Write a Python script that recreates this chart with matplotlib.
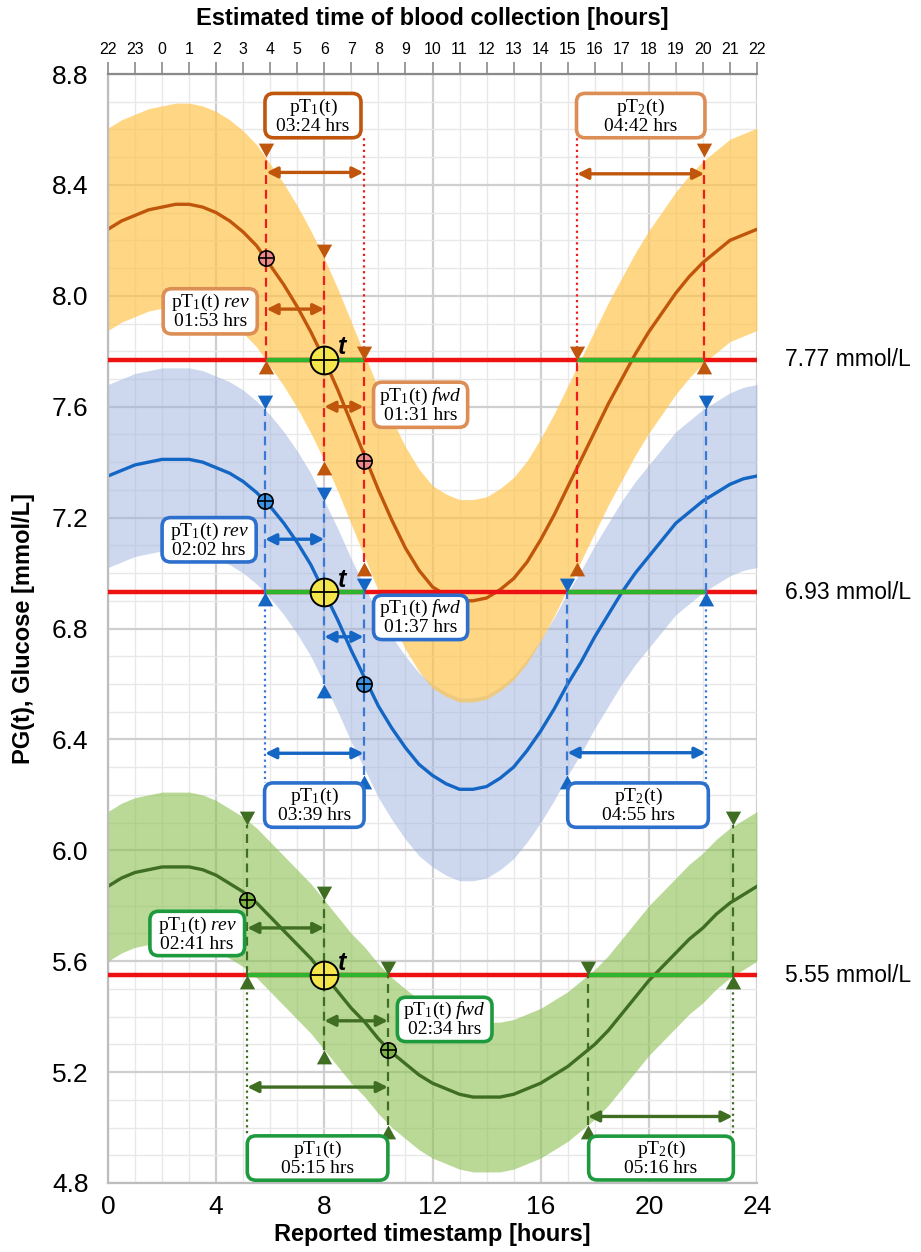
import matplotlib
matplotlib.use("Agg")
import matplotlib.pyplot as plt
import numpy as np
from matplotlib.path import Path
from matplotlib.patches import FancyBboxPatch
from matplotlib.ticker import MultipleLocator

plt.rcParams['font.family'] = ['Liberation Sans', 'DejaVu Sans']
plt.rcParams['mathtext.fontset'] = 'custom'
plt.rcParams['mathtext.rm'] = 'Liberation Serif'
plt.rcParams['mathtext.it'] = 'Liberation Serif:italic'

# ---------------- data (read every half hour) ----------------
hours = [h / 2 for h in range(49)]
orange_pg = [8.24, 8.27, 8.29, 8.31, 8.32, 8.33, 8.33, 8.32, 8.30, 8.27, 8.23, 8.18, 8.11,
             8.04, 7.96, 7.87, 7.77, 7.66, 7.54, 7.42, 7.30, 7.19, 7.09, 7.01, 6.95, 6.92,
             6.90, 6.90, 6.91, 6.94, 6.98, 7.04, 7.12, 7.21, 7.31, 7.41, 7.51, 7.61, 7.70,
             7.79, 7.87, 7.94, 8.01, 8.07, 8.12, 8.16, 8.20, 8.22, 8.24]
blue_pg = [7.35, 7.37, 7.39, 7.40, 7.41, 7.41, 7.41, 7.40, 7.38, 7.36, 7.33, 7.29, 7.24,
           7.18, 7.11, 7.03, 6.93, 6.83, 6.72, 6.62, 6.52, 6.44, 6.37, 6.31, 6.27, 6.24,
           6.22, 6.22, 6.23, 6.26, 6.30, 6.36, 6.43, 6.51, 6.60, 6.68, 6.77, 6.85, 6.93,
           7.00, 7.06, 7.12, 7.18, 7.22, 7.26, 7.29, 7.32, 7.34, 7.35]
green_pg = [5.87, 5.90, 5.92, 5.93, 5.94, 5.94, 5.94, 5.93, 5.91, 5.88, 5.85, 5.81, 5.76,
            5.71, 5.66, 5.61, 5.55, 5.49, 5.43, 5.38, 5.32, 5.27, 5.23, 5.19, 5.16, 5.14,
            5.12, 5.11, 5.11, 5.11, 5.12, 5.14, 5.16, 5.19, 5.22, 5.26, 5.30, 5.35, 5.41,
            5.47, 5.53, 5.58, 5.63, 5.68, 5.72, 5.77, 5.81, 5.84, 5.87]
band_half = [0.365, 0.33, 0.27]            # orange, blue, green
levels = [7.77, 6.93, 5.55]
level_labels = ["7.77 mmol/L", "6.93 mmol/L", "5.55 mmol/L"]
t_hour = 8.0
# reverse point, forward point, pT2 start, pT2 end (hours)
orange_times = [5.86, 9.45, 17.35, 22.05]
blue_times = [5.81, 9.45, 16.99, 22.1]
green_times = [5.15, 10.35, 17.75, 23.1]
orange_durations = ["03:24", "04:42", "01:53", "01:31"]   # pT1, pT2, rev, fwd
blue_durations = ["03:39", "04:55", "02:02", "01:37"]
green_durations = ["05:15", "05:16", "02:41", "02:34"]
top_hours = list(range(25))
top_ticks = [(h - 2) % 24 for h in top_hours]
x_ticks = [0, 4, 8, 12, 16, 20, 24]
y_ticks = [4.8, 5.2, 5.6, 6.0, 6.4, 6.8, 7.2, 7.6, 8.0, 8.4, 8.8]

# ---------------- style ----------------
W, H = 921, 1252
fig = plt.figure(figsize=(W / 100, H / 100), dpi=100)
ax_l, ax_r, ax_t, ax_b = 108, 757, 74, 1183
ax = fig.add_axes([ax_l / W, 1 - ax_b / H, (ax_r - ax_l) / W, (ax_b - ax_t) / H])
ax.set_xlim(0, 24)
ax.set_ylim(4.8, 8.8)
xpp = 24 / (ax_r - ax_l)
ypp = 4.0 / (ax_b - ax_t)
aspect = ypp / xpp

ax.set_axisbelow(True)
ax.xaxis.set_major_locator(MultipleLocator(4))
ax.xaxis.set_minor_locator(MultipleLocator(1))
ax.yaxis.set_major_locator(MultipleLocator(0.4))
ax.yaxis.set_minor_locator(MultipleLocator(0.1))
ax.grid(which='major', color='#CFCFCF', lw=1.6)
ax.grid(which='minor', color='#E8E8E8', lw=1.0)
ax.set_xticks(x_ticks)
ax.set_xticklabels([str(v) for v in x_ticks])
ax.set_yticks(y_ticks)
ax.set_yticklabels([f"{v:.1f}" for v in y_ticks])
ax.tick_params(which='both', length=0)
ax.tick_params(axis='x', labelsize=19, pad=9)
ax.tick_params(axis='y', labelsize=19, pad=14)
for s in ['right', 'top']:
    ax.spines[s].set_visible(False)
for s in ['left', 'bottom']:
    ax.spines[s].set_color('#BDBDBD')
    ax.spines[s].set_linewidth(1.6)

ax2 = ax.twiny()
ax2.set_xlim(0, 24)
ax2.set_xticks(top_hours)
ax2.set_xticklabels([str(v) for v in top_ticks])
ax2.tick_params(axis='x', direction='out', length=9, width=1.2, color='#8A8A8A',
                labelsize=11.5, pad=3)
ax2.spines['top'].set_color('#8A8A8A')
ax2.spines['top'].set_linewidth(1.6)
for s in ['left', 'right', 'bottom']:
    ax2.spines[s].set_visible(False)

fig.text((ax_l + ax_r) / 2 / W, 1 - 18 / H, "Estimated time of blood collection [hours]",
         ha='center', va='center', fontsize=17, fontweight='bold')
fig.text((ax_l + ax_r) / 2 / W, 1 - 1234 / H, "Reported timestamp [hours]",
         ha='center', va='center', fontsize=17, fontweight='bold')
fig.text(24 / W, 1 - (ax_t + ax_b) / 2 / H, "PG(t), Glucose [mmol/L]", rotation=90,
         ha='center', va='center', fontsize=17, fontweight='bold')

down_tri = Path([(-0.55, 1.0), (0.55, 1.0), (0.0, 0.0), (-0.55, 1.0)],
                [Path.MOVETO, Path.LINETO, Path.LINETO, Path.CLOSEPOLY])
up_tri = Path([(-0.55, -1.0), (0.55, -1.0), (0.0, 0.0), (-0.55, -1.0)],
              [Path.MOVETO, Path.LINETO, Path.LINETO, Path.CLOSEPOLY])

series = [
    dict(pg=orange_pg, color='#C0560C', band='#FFC44A', band_alpha=0.68, vcol='#EE1C1C',
         mfill='#F08A8A', box_main='#C0560C', box_other='#DC8E55', times=orange_times,
         dur=orange_durations,
         arrows=[8.445, 8.44, 7.952, 7.60],
         boxes=[(7.58, 8.65, 3.55, 0.16), (19.70, 8.65, 4.75, 0.16),
                (3.78, 7.944, 3.48, 0.163), (11.56, 7.607, 3.48, 0.163)],
         dotted='up', dot_end=8.572),
    dict(pg=blue_pg, color='#1466C4', band='#9DB2E0', band_alpha=0.5, vcol='#3A78D6',
         mfill='#3A93E6', box_main='#2D6FCC', box_other='#2D6FCC', times=blue_times,
         dur=blue_durations,
         arrows=[6.35, 6.352, 7.122, 6.77],
         boxes=[(7.63, 6.163, 3.68, 0.16), (19.6, 6.163, 5.2, 0.16),
                (3.74, 7.12, 3.48, 0.16), (11.56, 6.84, 3.48, 0.16)],
         dotted='down', dot_end=6.243),
    dict(pg=green_pg, color='#3F6E22', band='#8CC152', band_alpha=0.6, vcol='#3F6E22',
         mfill='#7DB442', box_main='#1E9A3E', box_other='#1E9A3E', times=green_times,
         dur=green_durations,
         arrows=[5.146, 5.04, 5.72, 5.385],
         boxes=[(7.75, 4.89, 5.2, 0.16), (20.45, 4.89, 5.35, 0.158),
                (3.3, 5.70, 3.5, 0.16), (12.45, 5.39, 3.5, 0.16)],
         dotted='down', dot_end=4.97),
]
draw_order = [1, 0, 2]

for i in draw_order:
    s = series[i]
    b = band_half[i]
    pg = np.array(s['pg'])
    ax.fill_between(hours, pg - b, pg + b, color=s['band'], alpha=s['band_alpha'], lw=0, zorder=1)

for i, s in enumerate(series):
    b = band_half[i]
    L = levels[i]
    r, w, a, e = s['times']
    c = s['color']
    ax.plot(hours, s['pg'], color=c, lw=2.4, zorder=2, solid_capstyle='round',
            solid_joinstyle='round')
    # threshold line
    ax.plot([0, 24], [L, L], color='#EE1111', lw=3.2, zorder=3, solid_capstyle='butt')
    ax.plot([r, w], [L, L], color='#2DB52D', lw=3.2, zorder=3.1, solid_capstyle='butt')
    ax.plot([a, e], [L, L], color='#2DB52D', lw=3.2, zorder=3.1, solid_capstyle='butt')
    ax.text(25.05, L, level_labels[i], fontsize=16.5, va='center', ha='left', clip_on=False)
    # vertical dashed segments
    segs = [(r, L, L + 2 * b), (t_hour, L - b, L + b), (w, L - 2 * b, L),
            (a, L - 2 * b, L), (e, L, L + 2 * b)]
    for x, y0, y1 in segs:
        ax.plot([x, x], [y0, y1], color=s['vcol'], lw=1.6, ls=(0, (4, 2.6)), zorder=4)
        ax.plot([x], [y1], marker=down_tri, ms=20, color=c, mec='none', zorder=5)
        ax.plot([x], [y0], marker=up_tri, ms=20, color=c, mec='none', zorder=5)
    # dotted connectors to duration boxes
    dx = (w, a) if s['dotted'] == 'up' else (r, e)
    for x in dx:
        ax.plot([x, x], [L, s['dot_end']], color=s['vcol'], lw=1.6, ls=(0, (1, 1.6)), zorder=4)
    # double arrows
    spans = [(r, w), (a, e), (r, t_hour), (t_hour, w)]
    for (x0, x1), yy in zip(spans, s['arrows']):
        ax.annotate('', xy=(x1, yy), xytext=(x0, yy),
                    arrowprops=dict(arrowstyle='<|-|>', color=c, lw=2.4,
                                    mutation_scale=16, shrinkA=0, shrinkB=0),
                    zorder=5)
    # boxes
    names = [r"$\mathrm{pT_1(t)}$", r"$\mathrm{pT_2(t)}$",
             r"$\mathrm{pT_1(t)}\ \mathit{rev}$", r"$\mathrm{pT_1(t)}\ \mathit{fwd}$"]
    for k, ((cx, cy, bw, bh), nm, du) in enumerate(zip(s['boxes'], names, s['dur'])):
        ec = s['box_main'] if k == 0 else s['box_other']
        patch = FancyBboxPatch((cx - bw / 2, cy - bh / 2), bw, bh,
                               boxstyle="round,pad=0,rounding_size=0.32",
                               mutation_aspect=aspect, fc='white', ec=ec, lw=2.6,
                               zorder=6, clip_on=False)
        ax.add_patch(patch)
        ax.text(cx, cy, nm + "\n" + du + " hrs", ha='center', va='center', fontsize=14,
                family='Liberation Serif', linespacing=1.0, zorder=7)
    # circle markers
    for x, y in [(r, L + b), (w, L - b)]:
        ax.plot([x], [y], marker='o', ms=11, mfc=s['mfill'], mec='black', mew=1.2, zorder=8)
        ax.plot([x], [y], marker='+', ms=11, color='black', mew=1.2, zorder=9)
    ax.plot([t_hour], [L], marker='o', ms=20, mfc='#F4E64A', mec='black', mew=1.4, zorder=8)
    ax.plot([t_hour], [L], marker='+', ms=20, color='black', mew=1.3, zorder=9)
    ax.text(t_hour + 0.5, L + 0.045, 't', fontsize=18, style='italic', fontweight='bold',
            ha='left', va='center', zorder=9)

fig.savefig("out.png", dpi=100)
